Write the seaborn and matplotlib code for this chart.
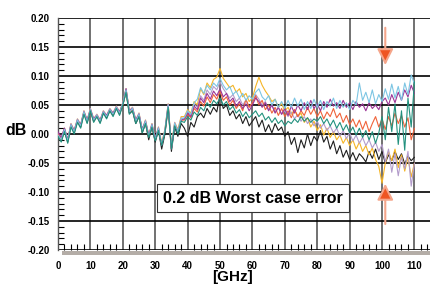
import numpy as np
import pandas as pd
import matplotlib
matplotlib.use("Agg")
import matplotlib.pyplot as plt
import seaborn as sns
from matplotlib.ticker import MultipleLocator, FormatStrFormatter

# frequency axis, 1 GHz steps
freq = list(range(0, 111))

black = [0.002, -0.012, 0.006, -0.014, 0.014, 0.002, 0.022, 0.012, 0.036, 0.020,
         0.040, 0.022, 0.030, 0.020, 0.036, 0.028, 0.040, 0.032, 0.044, 0.034,
         0.050, 0.072, 0.036, 0.040, 0.018, 0.030, 0.002, 0.018, -0.010, 0.012,
         -0.014, 0.006, -0.026, 0.000, 0.046, -0.030, 0.012, -0.004, 0.018, 0.010,
         -0.004, 0.020, 0.012, 0.030, 0.036, 0.028, 0.044, 0.034, 0.046, 0.038,
         0.068, 0.044, 0.050, 0.032, 0.040, 0.026, 0.034, 0.018, 0.030, 0.014,
         0.022, 0.030, 0.012, 0.024, 0.004, 0.016, 0.002, 0.018, 0.006, 0.012,
         -0.004, 0.004, -0.018, -0.006, -0.032, -0.010, -0.024, 0.000, -0.020, -0.004,
         -0.012, 0.006, -0.014, -0.004, -0.026, -0.012, -0.034, -0.020, -0.040, -0.028,
         -0.044, -0.032, -0.046, -0.034, -0.040, -0.048, -0.030, -0.042, -0.026, -0.044,
         -0.030, -0.050, -0.036, -0.046, -0.030, -0.044, -0.034, -0.052, -0.038, -0.046,
         -0.040]

yellow = [0.000, -0.008, 0.010, -0.010, 0.018, 0.006, 0.026, 0.016, 0.040, 0.024,
          0.044, 0.026, 0.034, 0.024, 0.040, 0.032, 0.044, 0.036, 0.048, 0.038,
          0.054, 0.078, 0.040, 0.046, 0.024, 0.036, 0.008, 0.024, -0.002, 0.018,
          -0.008, 0.012, -0.016, 0.008, 0.052, -0.022, 0.020, 0.008, 0.030, 0.030,
          0.042, 0.036, 0.056, 0.050, 0.078, 0.068, 0.088, 0.080, 0.094, 0.098,
          0.113, 0.096, 0.088, 0.080, 0.084, 0.072, 0.078, 0.064, 0.070, 0.056,
          0.062, 0.082, 0.098, 0.084, 0.074, 0.066, 0.056, 0.060, 0.046, 0.052,
          0.040, 0.046, 0.034, 0.042, 0.030, 0.036, 0.020, 0.028, 0.012, 0.022,
          0.006, 0.016, -0.002, 0.010, -0.006, 0.004, -0.010, -0.002, -0.016, -0.006,
          -0.020, -0.010, -0.026, -0.014, -0.030, -0.020, -0.036, -0.024, -0.044, -0.056,
          -0.085, -0.050, -0.030, -0.046, -0.026, -0.058, -0.036, -0.064, -0.040, -0.074,
          -0.050]

skyblue = [-0.002, -0.010, 0.008, -0.012, 0.016, 0.004, 0.024, 0.014, 0.038, 0.022,
           0.042, 0.024, 0.032, 0.022, 0.038, 0.030, 0.042, 0.034, 0.046, 0.036,
           0.052, 0.076, 0.038, 0.044, 0.022, 0.034, 0.006, 0.022, -0.004, 0.016,
           -0.010, 0.010, -0.018, 0.006, 0.050, -0.024, 0.018, 0.004, 0.026, 0.028,
           0.040, 0.034, 0.054, 0.060, 0.080, 0.070, 0.084, 0.076, 0.088, 0.082,
           0.096, 0.084, 0.076, 0.082, 0.068, 0.074, 0.062, 0.070, 0.058, 0.066,
           0.060, 0.072, 0.078, 0.064, 0.058, 0.066, 0.050, 0.060, 0.046, 0.056,
           0.044, 0.058, 0.046, 0.062, 0.048, 0.060, 0.042, 0.056, 0.044, 0.060,
           0.046, 0.058, 0.042, 0.056, 0.048, 0.062, 0.044, 0.058, 0.046, 0.054,
           0.042, 0.058, 0.050, 0.088, 0.058, 0.072, 0.054, 0.076, 0.052, 0.068,
           0.056, 0.078, 0.060, 0.086, 0.062, 0.082, 0.058, 0.088, 0.068, 0.102,
           0.086]

purple = [0.004, -0.006, 0.010, -0.010, 0.016, 0.006, 0.024, 0.016, 0.038, 0.024,
          0.042, 0.026, 0.032, 0.024, 0.038, 0.032, 0.042, 0.036, 0.046, 0.038,
          0.052, 0.078, 0.040, 0.044, 0.024, 0.034, 0.008, 0.022, -0.002, 0.016,
          -0.008, 0.010, -0.020, 0.004, 0.050, -0.026, 0.016, 0.004, 0.024, 0.026,
          0.036, 0.030, 0.048, 0.042, 0.062, 0.054, 0.070, 0.060, 0.074, 0.066,
          0.078, 0.064, 0.070, 0.056, 0.062, 0.048, 0.056, 0.044, 0.052, 0.040,
          0.050, 0.062, 0.056, 0.046, 0.054, 0.040, 0.050, 0.036, 0.046, 0.034,
          0.044, 0.032, 0.048, 0.036, 0.050, 0.040, 0.054, 0.042, 0.058, 0.044,
          0.052, 0.040, 0.056, 0.046, 0.060, 0.048, 0.054, 0.044, 0.058, 0.046,
          0.054, 0.042, 0.056, 0.046, 0.052, 0.040, 0.054, 0.044, 0.050, 0.042,
          0.056, 0.062, 0.050, 0.068, 0.054, 0.072, 0.058, 0.076, 0.064, 0.084,
          0.070]

orange = [0.000, -0.010, 0.006, -0.012, 0.014, 0.004, 0.022, 0.014, 0.036, 0.022,
          0.040, 0.024, 0.030, 0.022, 0.036, 0.030, 0.040, 0.034, 0.044, 0.036,
          0.050, 0.074, 0.038, 0.042, 0.022, 0.032, 0.006, 0.020, -0.004, 0.014,
          -0.010, 0.008, -0.018, 0.004, 0.048, -0.024, 0.016, 0.004, 0.024, 0.024,
          0.034, 0.028, 0.044, 0.038, 0.056, 0.048, 0.064, 0.054, 0.068, 0.060,
          0.074, 0.058, 0.064, 0.050, 0.058, 0.044, 0.052, 0.040, 0.060, 0.046,
          0.054, 0.066, 0.050, 0.058, 0.042, 0.050, 0.036, 0.046, 0.032, 0.044,
          0.030, 0.040, 0.028, 0.042, 0.030, 0.040, 0.032, 0.046, 0.034, 0.044,
          0.030, 0.040, 0.026, 0.038, 0.030, 0.044, 0.028, 0.036, 0.020, 0.032,
          0.016, 0.026, 0.012, 0.024, 0.008, 0.022, 0.004, 0.018, 0.030, 0.012,
          0.026, 0.008, 0.030, 0.014, 0.036, 0.018, 0.032, 0.012, 0.028, -0.010,
          0.010]

teal = [-0.004, -0.014, 0.004, -0.016, 0.012, 0.000, 0.020, 0.010, 0.034, 0.018,
        0.040, 0.020, 0.030, 0.018, 0.036, 0.026, 0.040, 0.030, 0.044, 0.032,
        0.050, 0.072, 0.034, 0.040, 0.018, 0.030, 0.002, 0.018, -0.006, 0.012,
        -0.012, 0.006, -0.020, 0.002, 0.046, -0.026, 0.014, 0.000, 0.022, 0.020,
        0.030, 0.024, 0.038, 0.032, 0.046, 0.040, 0.054, 0.046, 0.058, 0.052,
        0.062, 0.050, 0.056, 0.042, 0.048, 0.036, 0.042, 0.030, 0.038, 0.028,
        0.034, 0.040, 0.030, 0.036, 0.024, 0.030, 0.020, 0.028, 0.018, 0.024,
        0.014, 0.022, 0.018, 0.026, 0.020, 0.030, 0.022, 0.028, 0.020, 0.026,
        0.022, 0.030, 0.018, 0.026, 0.014, 0.024, 0.010, 0.020, 0.006, 0.016,
        0.002, 0.012, -0.002, 0.010, -0.006, 0.006, -0.010, 0.004, -0.016, 0.002,
        0.030, -0.010, 0.046, 0.004, 0.052, -0.018, 0.040, -0.028, 0.062, 0.012,
        0.090]

lavender = [0.002, -0.008, 0.010, -0.010, 0.018, 0.006, 0.026, 0.016, 0.040, 0.024,
            0.044, 0.026, 0.034, 0.024, 0.040, 0.032, 0.044, 0.036, 0.048, 0.038,
            0.054, 0.078, 0.040, 0.046, 0.024, 0.036, 0.008, 0.024, -0.002, 0.018,
            -0.008, 0.012, -0.018, 0.008, 0.052, -0.024, 0.020, 0.006, 0.028, 0.026,
            0.040, 0.032, 0.052, 0.046, 0.066, 0.058, 0.076, 0.068, 0.082, 0.076,
            0.090, 0.078, 0.070, 0.062, 0.068, 0.056, 0.062, 0.050, 0.058, 0.046,
            0.054, 0.068, 0.060, 0.050, 0.056, 0.042, 0.050, 0.038, 0.046, 0.034,
            0.040, 0.030, 0.038, 0.026, 0.034, 0.022, 0.030, 0.018, 0.026, 0.014,
            0.022, 0.010, 0.018, 0.006, 0.014, 0.002, 0.010, -0.004, 0.006, -0.008,
            0.002, -0.012, -0.002, -0.016, -0.006, -0.020, -0.010, -0.024, -0.014, -0.030,
            -0.018, -0.048, -0.026, -0.066, -0.034, -0.072, -0.040, -0.060, -0.030, -0.090,
            -0.050]

traces = {"black": black, "yellow": yellow, "lavender": lavender, "orange": orange,
          "purple": purple, "skyblue": skyblue, "teal": teal}
colors = {"black": "#1e1e1e", "yellow": "#f6b526", "lavender": "#b39ccb",
          "orange": "#f0633a", "purple": "#9b3596", "skyblue": "#7cc5e3",
          "teal": "#22917e"}

df = pd.concat([pd.DataFrame({"GHz": freq, "dB": v, "trace": k}) for k, v in traces.items()])

sns.set_style("white")
plt.rcParams["font.family"] = ["Liberation Sans", "DejaVu Sans"]
plt.rcParams["font.weight"] = "bold"
plt.rcParams["text.color"] = "black"
plt.rcParams["axes.labelcolor"] = "black"

fig = plt.figure(figsize=(4.3, 2.88), dpi=100)
ax = fig.add_axes([58 / 430, 1 - 250 / 288, 372 / 430, 232 / 288])

sns.lineplot(data=df, x="GHz", y="dB", hue="trace", hue_order=list(traces),
             palette=colors, legend=False, lw=0.8, ax=ax, zorder=3)

ax.set_xlim(0, 114.8)
ax.set_ylim(-0.2, 0.2)
ax.xaxis.set_major_locator(MultipleLocator(10))
ax.xaxis.set_minor_locator(MultipleLocator(2))
ax.yaxis.set_major_locator(MultipleLocator(0.05))
ax.yaxis.set_minor_locator(MultipleLocator(0.01))
ax.yaxis.set_major_formatter(FormatStrFormatter("%.2f"))

ax.grid(axis="y", which="major", color="black", lw=1.2, zorder=1)
ax.grid(axis="x", which="major", color="#4a4a4a", lw=1.1, zorder=1)
for s in ["top", "right", "bottom"]:
    ax.spines[s].set_visible(False)
ax.spines["left"].set_color("#555555")
ax.spines["left"].set_linewidth(1.0)

ax.tick_params(axis="y", which="major", direction="out", length=4, width=1.2,
               color="black", labelcolor="black", pad=2, labelsize=7)
ax.tick_params(axis="y", which="minor", direction="in", length=4, width=0.8,
               color="black", left=True)
ax.tick_params(axis="x", which="major", direction="out", length=5, width=1.1,
               color="#4a4a4a", labelcolor="black", pad=3, labelsize=7)
ax.tick_params(axis="x", which="minor", direction="in", length=4, width=0.8,
               color="black", bottom=True)

# gray strip under the bottom line
ax.axhspan(-0.2085, -0.2012, xmin=0.011, xmax=1, color="#b4ada7", lw=0,
           clip_on=False, zorder=0)

ax.set_xlabel("[GHz]", fontsize=11, fontweight="bold", va="center")
ax.xaxis.set_label_coords(0.468, -0.118)
ax.set_ylabel("dB", fontsize=11.5, fontweight="bold", rotation=0, va="center", ha="center")
ax.yaxis.set_label_coords(-0.113, 0.513)

ax.text(60.2, -0.111, "0.2 dB Worst case error", fontsize=11.5, fontweight="bold",
        ha="center", va="center", zorder=5,
        bbox=dict(boxstyle="square,pad=0.4", fc="white", ec="#333333", lw=0.8))

ax.annotate("", xy=(101, 0.114), xytext=(101, 0.188),
            arrowprops=dict(arrowstyle="-|>,head_length=0.7,head_width=0.35",
                            fc="#ef5522", ec="#f5a68b", lw=1.5, mutation_scale=14),
            zorder=6)
ax.annotate("", xy=(101, -0.081), xytext=(101, -0.160),
            arrowprops=dict(arrowstyle="-|>,head_length=0.7,head_width=0.35",
                            fc="#ef5522", ec="#f5a68b", lw=1.5, mutation_scale=14),
            zorder=6)

fig.savefig("out.png", dpi=100)
plt.close()
